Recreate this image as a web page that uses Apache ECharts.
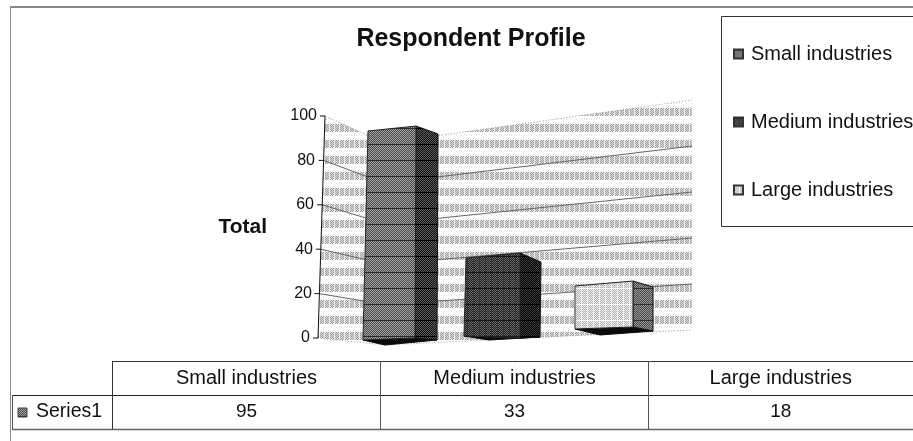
<!DOCTYPE html>
<html><head><meta charset="utf-8">
<style>html,body{margin:0;padding:0;background:#fff}#c{width:913px;height:441px}</style>
<script src="https://cdn.jsdelivr.net/npm/echarts@6/dist/echarts.min.js"></script>
</head><body><div id="c"></div>
<script>
const categories = ['Small industries', 'Medium industries', 'Large industries'];
const values = [95, 33, 18];
const yTicks = [0, 20, 40, 60, 80, 100];
const tableRowName = 'Series1';
const chartTitle = 'Respondent Profile';
const axisName = 'Total';

// layout of the perspective drawing (offsets from scale positions, not data)
const FONT = '"Liberation Sans", Arial, sans-serif';
const labelShift = {0:7, 20:5, 40:4, 60:3, 80:2, 100:0};
const wallFrame = {
  axis:   {dxBottom:-2, dxTop:5, off:0, k:1},
  corner: {x:385, off:7, k:0.91},
  right:  {x:692, off:-8, k:1.036}
};
const barFrames = [
  {x:{tl:-14,bl:-19,tr:34,br:33,ts:56,bs:55}, off:{l:2,r:0,s:2},   k:{l:.991,r:1.005,s:.977}, drop:{x:22,y:5}},
  {x:{tl:-40,bl:-42,tr:14,br:14,ts:35,bs:34}, off:{l:-2,r:0,s:-1}, k:{l:1.065,r:1.16,s:1.024}, drop:{x:25,y:2}},
  {x:{tl:-55,bl:-55,tr:3,br:3,ts:23,bs:23},   off:{l:-9,r:-11,s:-7}, k:{l:1.076,r:1.151,s:1.10}, drop:{x:25,y:6}}
];

function pattern(w, h, fn) {
  const c = document.createElement('canvas'); c.width = w; c.height = h;
  const g = c.getContext('2d');
  for (let y = 0; y < h; y++) for (let x = 0; x < w; x++) {
    g.fillStyle = fn(x, y); g.fillRect(x, y, 1, 1);
  }
  return {image: c, repeat: 'repeat'};
}
const checker = (a, b, rowDark, colLight) => pattern(6, 16, (x, y) => {
  if (y % 16 === 0 && rowDark) return rowDark;
  if (x % 6 === 5 && colLight) return colLight;
  return (x + y) % 2 ? a : b;
});
const wallPat = pattern(5, 16, (x, y) => {
  const inBand = (y >= 12 || y < 4);
  if (inBand) { if (x % 5 === 4) return '#f0f0f0'; return (x + y) % 2 ? '#9c9c9c' : '#dedede'; }
  return (x + y * 3) % 11 === 0 ? '#d8d8d8' : '#ffffff';
});
const barStyles = [
  {front: checker('#4c4c4c', '#a0a0a0', '#2a2a2a'), side: checker('#111111', '#5c5c5c', '#000000')},
  {front: checker('#1c1c1c', '#6c6c6c', '#1a1a1a', '#333333'), side: checker('#000000', '#3c3c3c', '#000000')},
  {front: checker('#b0b0b0', '#eeeeee', '#ffffff', '#f4f4f4'), side: checker('#4a4a4a', '#969696', '#333333')}
];

const chart = echarts.init(document.getElementById('c'), null, {renderer: 'canvas'});

function wallItem(params, api) {
  const v = api.value(0);
  const y0 = api.coord([0, 0])[1];
  const at = (val, f) => { const yv = api.coord([0, val])[1]; return y0 + f.off - (y0 - yv) * f.k; };
  const ax = val => api.coord([0, 0])[0] - api.size([1, 0])[0] / 2 + (val / 100) * (wallFrame.axis.dxTop - wallFrame.axis.dxBottom) + wallFrame.axis.dxBottom;
  const ch = [];
  const c = wallFrame.corner, r = wallFrame.right;
  if (params.dataIndex === 0) {
    ch.push({type:'polygon', shape:{points:[[ax(100), at(100, wallFrame.axis)], [c.x, at(100, c)], [c.x, at(0, c)], [ax(0), at(0, wallFrame.axis)]]}, style:{fill:wallPat, stroke:null}});
    ch.push({type:'polygon', shape:{points:[[c.x, at(100, c)], [r.x, at(100, r)], [r.x, at(0, r)], [c.x, at(0, c)]]}, style:{fill:wallPat, stroke:null}});
    ch.push({type:'polyline', shape:{points:[[ax(100), at(100, wallFrame.axis)], [ax(0), at(0, wallFrame.axis)]]}, style:{stroke:'#111', lineWidth:1, fill:null}, z2:5});
  }
  const edge = (v === 0 || v === 100);
  ch.push({type:'polyline', shape:{points:[[ax(v), at(v, wallFrame.axis)], [c.x, at(v, c)], [r.x, at(v, r)]]},
    style:{stroke: edge ? '#999' : '#666', lineWidth:1, lineDash: edge ? [1, 2] : null, fill:null}, z2:3});
  ch.push({type:'line', shape:{x1:ax(v) - 5, y1:at(v, wallFrame.axis), x2:ax(v), y2:at(v, wallFrame.axis)}, style:{stroke:'#111', lineWidth:1}, z2:5});
  return {type:'group', children:ch};
}

function barItem(params, api) {
  const i = api.value(0), v = api.value(1);
  const f = barFrames[i], s = barStyles[i];
  const cx = api.coord([i, 0])[0], y0 = api.coord([i, 0])[1], yv = api.coord([i, v])[1];
  const h = y0 - yv;
  const tl = [cx + f.x.tl, y0 + f.off.l - h * f.k.l], bl = [cx + f.x.bl, y0 + f.off.l];
  const tr = [cx + f.x.tr, y0 + f.off.r - h * f.k.r], br = [cx + f.x.br, y0 + f.off.r];
  const ts = [cx + f.x.ts, y0 + f.off.s - h * f.k.s], bs = [cx + f.x.bs, y0 + f.off.s];
  const drop = [bl[0] + f.drop.x, Math.max(bl[1], br[1]) + f.drop.y];
  return {type:'group', children:[
    {type:'polygon', shape:{points:[bl, br, bs, drop]}, style:{fill:'#0a0a0a', stroke:'#0a0a0a', lineWidth:1}},
    {type:'polygon', shape:{points:[tr, ts, bs, br]}, style:{fill:s.side, stroke:'#111', lineWidth:1}},
    {type:'polygon', shape:{points:[tl, tr, br, bl]}, style:{fill:s.front, stroke:'#222', lineWidth:1}}
  ]};
}

const txt = (x, y, text, size, align) => ({type:'text', silent:true, x, y,
  style:{text, fill:'#111', font:`${size}px ${FONT}`, textAlign:align || 'center', textVerticalAlign:'middle'}});
const ln = (x1, y1, x2, y2, color, w) => ({type:'line', silent:true, shape:{x1, y1, x2, y2}, style:{stroke:color || '#333', lineWidth:w || 1}});
const colX = [112.5, 380.5, 648.5, 913];
const tableEls = [
  ln(10, 7, 913, 7, '#888', 2), ln(10.5, 6, 10.5, 441, '#888', 1),
  ln(112, 361.5, 913, 361.5), ln(12, 395.5, 913, 395.5, '#222'), ln(12, 429.5, 913, 429.5, '#666', 1.5),
  ln(12.5, 395, 12.5, 429.5, '#555'), ln(112.5, 361, 112.5, 429.5), ln(380.5, 361, 380.5, 429.5, '#555'), ln(648.5, 361, 648.5, 429.5, '#555'),
  {type:'rect', silent:true, shape:{x:721.5, y:16.5, width:210, height:210}, style:{fill:'#fff', stroke:'#333', lineWidth:1}, z:-1},
  {type:'rect', silent:true, shape:{x:18, y:408, width:9, height:9}, style:{fill:barStyles[0].front, stroke:'#444'}},
  txt(36, 412, tableRowName, 19.5, 'left')
];
categories.forEach((c, i) => {
  const mid = (colX[i] + colX[i + 1]) / 2;
  tableEls.push(txt(mid, 378, c, 20));
  tableEls.push(txt(mid, 412, String(values[i]), 19));
});

const barSeries = categories.map((name, i) => ({
  name, type:'custom', coordinateSystem:'cartesian2d', renderItem:barItem, z:3, silent:true,
  data:[[i, values[i]]], encode:{x:0, y:1}, itemStyle:{color:barStyles[i].front, borderColor:'#333', borderWidth:1}, clip:false
}));

chart.setOption({
  animation:false,
  backgroundColor:'#ffffff',
  title:{text:chartTitle, left:466, top:22, textAlign:'center', textStyle:{fontFamily:FONT, fontSize:25, fontWeight:'bold', color:'#111'}},
  legend:{orient:'vertical', left:728, top:39, itemWidth:9, itemHeight:9, itemGap:48, selectedMode:false, icon:'rect',
    data:categories, textStyle:{fontFamily:FONT, fontSize:20, color:'#111', padding:[0,0,0,3]}},
  grid:{left:320, top:116, width:372, height:222, containLabel:false},
  xAxis:{type:'category', data:categories, show:false},
  yAxis:{type:'value', min:0, max:100, interval:20, name:axisName, nameLocation:'middle', nameGap:53, nameRotate:0,
    nameTextStyle:{fontFamily:FONT, fontSize:21, fontWeight:'bold', color:'#111', padding:[0,0,8,0]},
    axisLine:{show:false}, axisTick:{show:false}, splitLine:{show:false},
    axisLabel:{margin:3, color:'#111', fontFamily:FONT, fontSize:16,
      formatter:v => `{s${v}|${v}}`,
      rich:Object.fromEntries(yTicks.map(t => ['s' + t, {fontFamily:FONT, fontSize:16, color:'#111', padding:[0, labelShift[t], 0, 0]}]))}},
  graphic:tableEls,
  series:[{name:'wall', type:'custom', coordinateSystem:'cartesian2d', renderItem:wallItem, z:1, silent:true, clip:false,
    data:yTicks.map(t => [t]), encode:{}}].concat(barSeries)
});
</script></body></html>
